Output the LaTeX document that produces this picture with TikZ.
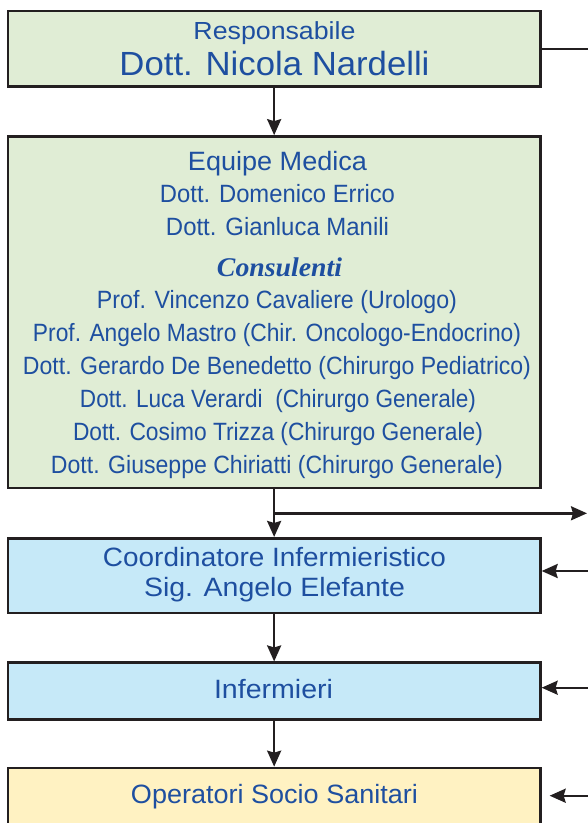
\documentclass[tikz,border=0pt]{standalone}
\usepackage{fontspec}
\usepackage{graphicx}
\setmainfont{Liberation Sans}
\newfontfamily\serifbi{Liberation Serif}
\usetikzlibrary{arrows.meta}
\definecolor{boxgreen}{HTML}{E0EDD5}
\definecolor{boxblue}{HTML}{C6E9F8}
\definecolor{boxyellow}{HTML}{FFF2C2}
\definecolor{boxline}{HTML}{231F20}
\definecolor{txtblue}{HTML}{1E4FA0}
\newcommand\fitline[2]{\resizebox{#1pt}{\height}{#2}}
\begin{document}
\begin{tikzpicture}[x=1pt,y=-1pt,
  box/.style={draw=boxline, line width=2.7pt, inner sep=0pt, minimum width=532.3pt},
  txt/.style={text=txtblue, anchor=base, inner sep=0pt},
  body/.style={txt, font=\fontsize{25}{30}\selectfont},
  head/.style={txt, font=\fontsize{26.5}{30}\selectfont},
  conn/.style={draw=boxline, line width=2.4pt},
  tip/.style={-{Stealth[length=16pt,width=14pt,inset=2pt]}}]
\useasboundingbox (0,0) rectangle (588,823);
\clip (0,0) rectangle (588,823);
\fill[white] (0,0) rectangle (588,823);
% boxes
\node[box, fill=boxgreen, minimum height=75.5pt] (resp) at (274.15,48.75) {};
\node[box, fill=boxgreen, minimum height=351.5pt] (equipe) at (274.15,312.25) {};
\node[box, fill=boxblue, minimum height=74.7pt] (coord) at (274.15,575.65) {};
\node[box, fill=boxblue, minimum height=56.7pt] (inferm) at (274.15,691.15) {};
\node[box, fill=boxyellow, minimum height=92pt] (oss) at (274.15,814) {};
% texts
\node[txt, font=\fontsize{24.7}{30}\selectfont] (t1) at (274.5,39.3) {\fitline{162}{Responsabile}};
\node[txt, font=\fontsize{33.5}{40}\selectfont] (t2) at (274.5,75.7) {\fitline{310}{Dott. Nicola Nardelli}};
\node[head] (t3) at (277.5,170) {\fitline{179}{Equipe Medica}};
\node[body] (t4) at (277.5,202.5) {\fitline{235}{Dott. Domenico Errico}};
\node[body] (t5) at (277.5,235.5) {\fitline{223}{Dott. Gianluca Manili}};
\node[txt, font=\serifbi\bfseries\itshape\fontsize{27}{30}\selectfont] (t6) at (279.5,276) {\fitline{125}{Consulenti}};
\node[body] (t7) at (277,308) {\fitline{360}{Prof. Vincenzo Cavaliere (Urologo)}};
\node[body] (t8) at (277,341) {\fitline{488}{Prof. Angelo Mastro (Chir. Oncologo-Endocrino)}};
\node[body] (t9) at (277,374) {\fitline{508}{Dott. Gerardo De Benedetto (Chirurgo Pediatrico)}};
\node[body] (t10) at (278,407) {\fitline{396}{Dott. Luca Verardi\ \ (Chirurgo Generale)}};
\node[body] (t11) at (278,440) {\fitline{410}{Dott. Cosimo Trizza (Chirurgo Generale)}};
\node[body] (t12) at (277,473) {\fitline{452}{Dott. Giuseppe Chiriatti (Chirurgo Generale)}};
\node[head] (t13) at (274.5,566.7) {\fitline{343}{Coordinatore Infermieristico}};
\node[head] (t14) at (274.5,596) {\fitline{261}{Sig. Angelo Elefante}};
\node[head] (t15) at (273.5,698.5) {\fitline{119}{Infermieri}};
\node[head] (t16) at (274.5,803.7) {\fitline{287}{Operatori Socio Sanitari}};
% connectors
\coordinate (edge) at (592,0);
\coordinate (edgetip) at (587,0);
\coordinate (br) at (274.15,513.3);
\coordinate (a3) at (592,571);
\coordinate (a4) at (592,687.7);
\coordinate (a5) at (592,795.7);
\draw[conn] (resp.east) -- (resp.east -| edge);
\draw[conn, tip] (resp.south) -- (equipe.north);
\draw[conn, tip] (equipe.south) -- (coord.north);
\draw[conn, tip] (br) -- (br -| edgetip);
\draw[conn, tip] (a3) -- (a3 -| coord.east);
\draw[conn, tip] (coord.south) -- (inferm.north);
\draw[conn, tip] (a4) -- (a4 -| inferm.east);
\draw[conn, tip] (inferm.south) -- (oss.north);
\draw[conn, tip] (a5) -- ([xshift=8pt]a5 -| oss.east);
\end{tikzpicture}
\end{document}
